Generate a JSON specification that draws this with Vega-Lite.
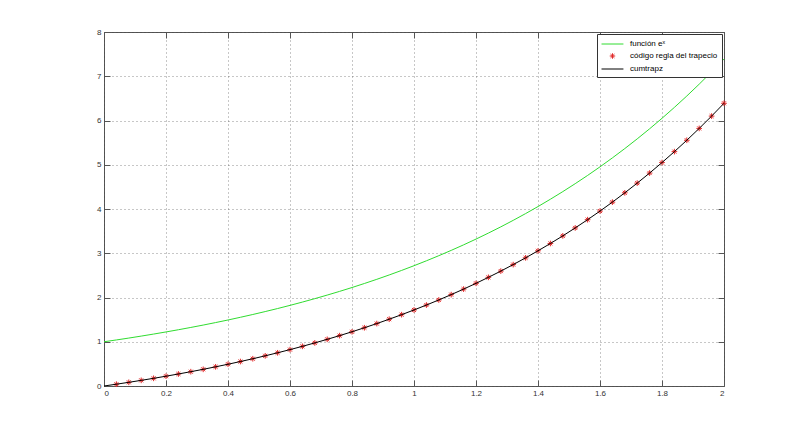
{
"$schema":"https://vega.github.io/schema/vega-lite/v6.json",
"width":620,"height":354,
"autosize":"none",
"padding":{"left":104,"top":32,"right":76,"bottom":47},
"background":"white",
"config":{
 "view":{"stroke":"#555","strokeWidth":1},
 "axis":{"labelFont":"Liberation Sans","labelFontSize":8,"labelColor":"#333","domain":false,"tickColor":"#555","tickSize":-6,"labelPadding":9,"title":null,"gridColor":"#444","gridDash":[1,3],"gridOpacity":0.6,"gridWidth":1}
},
"data":{"values":[
{"x":0,"ex":1,"t":0},{"x":0.04,"ex":1.0408,"t":0.0408},{"x":0.08,"ex":1.0833,"t":0.0833},{"x":0.12,"ex":1.1275,"t":0.1275},{"x":0.16,"ex":1.1735,"t":0.1735},{"x":0.2,"ex":1.2214,"t":0.2214},{"x":0.24,"ex":1.2712,"t":0.2712},{"x":0.28,"ex":1.3231,"t":0.3231},{"x":0.32,"ex":1.3771,"t":0.3771},{"x":0.36,"ex":1.4333,"t":0.4333},{"x":0.4,"ex":1.4918,"t":0.4918},{"x":0.44,"ex":1.5527,"t":0.5527},{"x":0.48,"ex":1.6161,"t":0.6161},{"x":0.52,"ex":1.682,"t":0.682},{"x":0.56,"ex":1.7507,"t":0.7507},{"x":0.6,"ex":1.8221,"t":0.8221},{"x":0.64,"ex":1.8965,"t":0.8965},{"x":0.68,"ex":1.9739,"t":0.9739},{"x":0.72,"ex":2.0544,"t":1.0544},{"x":0.76,"ex":2.1383,"t":1.1383},{"x":0.8,"ex":2.2255,"t":1.2255},{"x":0.84,"ex":2.3164,"t":1.3164},{"x":0.88,"ex":2.4109,"t":1.4109},{"x":0.92,"ex":2.5093,"t":1.5093},{"x":0.96,"ex":2.6117,"t":1.6117},{"x":1.0,"ex":2.7183,"t":1.7183},{"x":1.04,"ex":2.8292,"t":1.8292},{"x":1.08,"ex":2.9447,"t":1.9447},{"x":1.12,"ex":3.0649,"t":2.0649},{"x":1.16,"ex":3.1899,"t":2.1899},{"x":1.2,"ex":3.3201,"t":2.3201},{"x":1.24,"ex":3.4556,"t":2.4556},{"x":1.28,"ex":3.5966,"t":2.5966},{"x":1.32,"ex":3.7434,"t":2.7434},{"x":1.36,"ex":3.8962,"t":2.8962},{"x":1.4,"ex":4.0552,"t":3.0552},{"x":1.44,"ex":4.2207,"t":3.2207},{"x":1.48,"ex":4.3929,"t":3.3929},{"x":1.52,"ex":4.5722,"t":3.5722},{"x":1.56,"ex":4.7588,"t":3.7588},{"x":1.6,"ex":4.953,"t":3.953},{"x":1.64,"ex":5.1552,"t":4.1552},{"x":1.68,"ex":5.3656,"t":4.3656},{"x":1.72,"ex":5.5845,"t":4.5845},{"x":1.76,"ex":5.8124,"t":4.8124},{"x":1.8,"ex":6.0496,"t":5.0496},{"x":1.84,"ex":6.2965,"t":5.2965},{"x":1.88,"ex":6.5535,"t":5.5535},{"x":1.92,"ex":6.821,"t":5.821},{"x":1.96,"ex":7.0993,"t":6.0993},{"x":2.0,"ex":7.3891,"t":6.3891}
]},
"resolve":{"axis":{"x":"independent","y":"independent"}},
"layer":[
 {"mark":{"type":"line","strokeWidth":1},
  "encoding":{
   "x":{"field":"x","type":"quantitative","scale":{"domain":[0,2],"nice":false,"zero":false},"axis":{"values":[0,0.2,0.4,0.6,0.8,1,1.2,1.4,1.6,1.8,2],"format":"~g","orient":"bottom"}},
   "y":{"field":"ex","type":"quantitative","scale":{"domain":[0,8],"nice":false},"axis":{"values":[0,1,2,3,4,5,6,7,8],"orient":"left"}},
   "color":{"datum":"función eˣ","type":"nominal","scale":{"domain":["función eˣ","código regla del trapecio","cumtrapz"],"range":["#30dc30","#e02828","#000000"]},
    "legend":{"orient":"top-right","offset":2,"title":null,"fillColor":"white","strokeColor":"#333","padding":4,"labelFont":"Liberation Sans","labelFontSize":8,"labelColor":"#000","labelOffset":17,"symbolSize":120,"symbolStrokeWidth":1,"symbolType":"stroke","rowPadding":2,
     "encode":{"symbols":{"update":{"shape":{"signal":"datum.index===1 ? 'M1,-0.5L1,0.5M0.5,0L1.5,0M0.65,-0.35L1.35,0.35M0.65,0.35L1.35,-0.35' : 'M-1,0L3,0'"},"fill":{"value":"transparent"}}}}}}
  }},
 {"transform":[{"filter":"datum.x > 0"}],
  "mark":{"type":"point","shape":"M0,-1L0,1M-1,0L1,0M-0.7,-0.7L0.7,0.7M-0.7,0.7L0.7,-0.7","filled":false,"size":32,"strokeWidth":1,"opacity":1},
  "encoding":{
   "x":{"field":"x","type":"quantitative","axis":{"orient":"top","labels":false,"grid":false,"values":[0,0.2,0.4,0.6,0.8,1,1.2,1.4,1.6,1.8,2]}},
   "y":{"field":"t","type":"quantitative","axis":{"orient":"right","labels":false,"grid":false,"values":[0,1,2,3,4,5,6,7,8]}},
   "color":{"datum":"código regla del trapecio","type":"nominal"}
  }},
 {"mark":{"type":"line","strokeWidth":1},
  "encoding":{
   "x":{"field":"x","type":"quantitative","axis":null},
   "y":{"field":"t","type":"quantitative","axis":null},
   "color":{"datum":"cumtrapz","type":"nominal"}
  }}
]
}
